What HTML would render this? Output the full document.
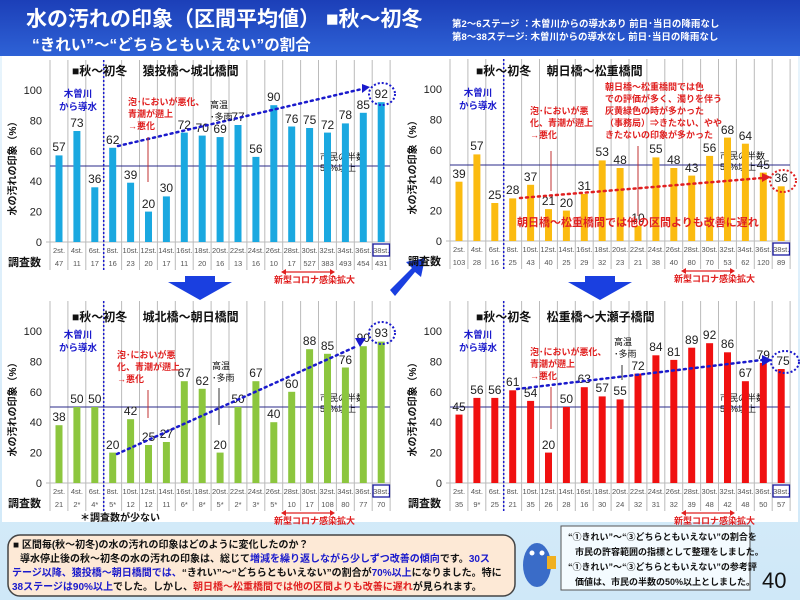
<!DOCTYPE html>
<html><head><meta charset="utf-8"><style>
body{margin:0;width:800px;height:600px;overflow:hidden;background:#fff;font-family:"Liberation Sans","Noto Sans CJK JP",sans-serif}
svg{display:block}
text{font-family:"Liberation Sans","Noto Sans CJK JP",sans-serif}
.v{font-size:12px;fill:#222;text-anchor:middle}
.s{font-size:7.5px;fill:#555;text-anchor:middle}
.yt{font-size:11px;fill:#222;text-anchor:end}
.t{font-size:12px;font-weight:bold;fill:#111}
.r{font-size:9px;font-weight:bold;fill:#e02020}
.b{font-size:9.5px;font-weight:bold;fill:#1a1acc}
.k{font-size:9px;fill:#111}
</style></head><body>
<svg width="800" height="600" viewBox="0 0 800 600">
<defs>
<linearGradient id="hg" x1="0" y1="0" x2="0" y2="1"><stop offset="0" stop-color="#1c3fb8"/><stop offset="1" stop-color="#2e62d6"/></linearGradient>
<linearGradient id="bg" x1="0" y1="0" x2="0" y2="1"><stop offset="0" stop-color="#eaf5fd"/><stop offset="1" stop-color="#cfe8f8"/></linearGradient>
<g id="grid">
<g stroke="#bbb" stroke-width="1">
<line x1="50" y1="-182" x2="50" y2="28"/><line x1="67.9" y1="-182" x2="67.9" y2="28"/><line x1="85.8" y1="-182" x2="85.8" y2="28"/><line x1="103.7" y1="-182" x2="103.7" y2="28"/><line x1="121.6" y1="-182" x2="121.6" y2="28"/><line x1="139.5" y1="-182" x2="139.5" y2="28"/><line x1="157.4" y1="-182" x2="157.4" y2="28"/><line x1="175.3" y1="-182" x2="175.3" y2="28"/><line x1="193.2" y1="-182" x2="193.2" y2="28"/><line x1="211.1" y1="-182" x2="211.1" y2="28"/><line x1="229" y1="-182" x2="229" y2="28"/><line x1="246.9" y1="-182" x2="246.9" y2="28"/><line x1="264.8" y1="-182" x2="264.8" y2="28"/><line x1="282.7" y1="-182" x2="282.7" y2="28"/><line x1="300.6" y1="-182" x2="300.6" y2="28"/><line x1="318.5" y1="-182" x2="318.5" y2="28"/><line x1="336.4" y1="-182" x2="336.4" y2="28"/><line x1="354.3" y1="-182" x2="354.3" y2="28"/><line x1="372.2" y1="-182" x2="372.2" y2="28"/><line x1="390.1" y1="-182" x2="390.1" y2="28"/>
<line x1="46" y1="0" x2="390" y2="0"/>
</g>
<line x1="50" y1="-76" x2="390" y2="-76" stroke="#2a2a8a" stroke-width="1"/>
<line x1="103.7" y1="-182" x2="103.7" y2="28" stroke="#1a1acc" stroke-width="1.5" stroke-dasharray="2,2"/>
<text class="yt" x="42" y="4">0</text><text class="yt" x="42" y="-26.4">20</text><text class="yt" x="42" y="-56.8">40</text><text class="yt" x="42" y="-87.2">60</text><text class="yt" x="42" y="-117.6">80</text><text class="yt" x="42" y="-148">100</text>
<text x="16" y="-76" font-size="10" font-weight="bold" fill="#111" transform="rotate(-90 16 -76)" text-anchor="middle">水の汚れの印象（%）</text>
<text x="8" y="24" font-size="11" font-weight="bold" fill="#111">調査数</text>
<text class="s" x="59" y="11">2st.</text><text class="s" x="76.9" y="11">4st.</text><text class="s" x="94.8" y="11">6st.</text><text class="s" x="112.7" y="11">8st.</text><text class="s" x="130.6" y="11">10st.</text><text class="s" x="148.5" y="11">12st.</text><text class="s" x="166.4" y="11">14st.</text><text class="s" x="184.3" y="11">16st.</text><text class="s" x="202.2" y="11">18st.</text><text class="s" x="220.1" y="11">20st.</text><text class="s" x="238" y="11">22st.</text><text class="s" x="255.9" y="11">24st.</text><text class="s" x="273.8" y="11">26st.</text><text class="s" x="291.7" y="11">28st.</text><text class="s" x="309.6" y="11">30st.</text><text class="s" x="327.5" y="11">32st.</text><text class="s" x="345.4" y="11">34st.</text><text class="s" x="363.3" y="11">36st.</text><text class="s" x="381.2" y="11">38st.</text>
<rect x="373" y="2" width="16.5" height="12" fill="none" stroke="#1a1aa0" stroke-width="1.3"/>
<text class="b" x="78" y="-145" text-anchor="middle">木曽川</text><text class="b" x="78" y="-132" text-anchor="middle">から導水</text>
<text class="k" x="320" y="-82">市民の半数</text><text class="k" x="320" y="-71">50%以上</text>
<line x1="284" y1="30" x2="332" y2="30" stroke="#e02020" stroke-width="1.2"/>
<polygon points="281,30 286,27 286,33" fill="#e02020"/><polygon points="335,30 330,27 330,33" fill="#e02020"/>
<text class="r" x="274" y="41" font-size="8">新型コロナ感染拡大</text>
</g>
</defs>

<rect width="800" height="600" fill="url(#bg)"/>
<rect x="0" y="0" width="800" height="56" fill="url(#hg)"/>
<rect x="2" y="56" width="796" height="466" fill="#fff"/>
<text x="26" y="26" font-size="21" font-weight="bold" fill="#fff">水の汚れの印象（区間平均値） ■秋～初冬</text>
<text x="32" y="50" font-size="15.5" font-weight="bold" fill="#fff">“きれい”～“どちらともいえない”の割合</text>
<text x="452" y="27" font-size="9.5" font-weight="bold" fill="#fff">第2～6ステージ ：木曽川からの導水あり 前日･当日の降雨なし</text>
<text x="452" y="40" font-size="9.5" font-weight="bold" fill="#fff">第8～38ステージ: 木曽川からの導水なし 前日･当日の降雨なし</text>

<polygon points="185,276 215,276 215,282 232,282 200,300 168,282 185,282" fill="#1a3fe0"/>
<polygon points="585,276 615,276 615,282 632,282 600,300 568,282 585,282" fill="#1a3fe0"/>
<polygon points="390,290 412,268 406,262 425,258 421,277 415,272 395,296" fill="#1a3fe0"/>

<g transform="translate(0,242)">
<use href="#grid"/>
<text class="t" x="72" y="-167">■秋～初冬　 猿投橋～城北橋間</text>
<g fill="#1aa8e0">
<rect x="55.5" y="-86.6" width="7" height="86.6"/><rect x="73.4" y="-111" width="7" height="111"/><rect x="91.3" y="-54.7" width="7" height="54.7"/><rect x="109.2" y="-94.2" width="7" height="94.2"/><rect x="127.1" y="-59.3" width="7" height="59.3"/><rect x="145" y="-30.4" width="7" height="30.4"/><rect x="162.9" y="-45.6" width="7" height="45.6"/><rect x="180.8" y="-109.4" width="7" height="109.4"/><rect x="198.7" y="-106.4" width="7" height="106.4"/><rect x="216.6" y="-104.9" width="7" height="104.9"/><rect x="234.5" y="-117" width="7" height="117"/><rect x="252.4" y="-85.1" width="7" height="85.1"/><rect x="270.3" y="-136.8" width="7" height="136.8"/><rect x="288.2" y="-115.5" width="7" height="115.5"/><rect x="306.1" y="-114" width="7" height="114"/><rect x="324" y="-109.4" width="7" height="109.4"/><rect x="341.9" y="-118.6" width="7" height="118.6"/><rect x="359.8" y="-129.2" width="7" height="129.2"/><rect x="377.7" y="-139.8" width="7" height="139.8"/>
</g>
<text class="v" x="59" y="-91">57</text><text class="v" x="76.9" y="-115">73</text><text class="v" x="94.8" y="-59">36</text><text class="v" x="112.7" y="-98">62</text><text class="v" x="130.6" y="-63">39</text><text class="v" x="148.5" y="-34">20</text><text class="v" x="166.4" y="-50">30</text><text class="v" x="184.3" y="-113">72</text><text class="v" x="202.2" y="-110">70</text><text class="v" x="220.1" y="-109">69</text><text class="v" x="238" y="-121">77</text><text class="v" x="255.9" y="-89">56</text><text class="v" x="273.8" y="-141">90</text><text class="v" x="291.7" y="-119">76</text><text class="v" x="309.6" y="-118">75</text><text class="v" x="327.5" y="-113">72</text><text class="v" x="345.4" y="-123">78</text><text class="v" x="363.3" y="-133">85</text><text class="v" x="381.2" y="-144">92</text>
<text class="s" x="59" y="24">47</text><text class="s" x="76.9" y="24">11</text><text class="s" x="94.8" y="24">17</text><text class="s" x="112.7" y="24">16</text><text class="s" x="130.6" y="24">23</text><text class="s" x="148.5" y="24">20</text><text class="s" x="166.4" y="24">17</text><text class="s" x="184.3" y="24">11</text><text class="s" x="202.2" y="24">20</text><text class="s" x="220.1" y="24">16</text><text class="s" x="238" y="24">13</text><text class="s" x="255.9" y="24">16</text><text class="s" x="273.8" y="24">10</text><text class="s" x="291.7" y="24">17</text><text class="s" x="309.6" y="24">527</text><text class="s" x="327.5" y="24">383</text><text class="s" x="345.4" y="24">493</text><text class="s" x="363.3" y="24">454</text><text class="s" x="381.2" y="24">431</text>
<line x1="118" y1="-96" x2="362" y2="-153" stroke="#1a1acc" stroke-width="2.5" stroke-dasharray="2,4" stroke-linecap="round"/>
<polygon points="362,-158 370,-155 362,-149" fill="#1a1acc"/>
<ellipse cx="382" cy="-148" rx="13" ry="11" fill="none" stroke="#1a1acc" stroke-width="2" stroke-dasharray="2,2"/>
<text class="r" x="128" y="-137">泡･においが悪化、</text><text class="r" x="128" y="-125">青潮が遡上</text><text class="r" x="128" y="-113">→悪化</text>
<line x1="148" y1="-105" x2="148" y2="-60" stroke="#c03030"/>
<text class="k" x="210" y="-134">高温</text><text class="k" x="210" y="-122">･多雨</text>
</g>

<g transform="translate(400,241)">
<use href="#grid"/>
<text class="t" x="76" y="-166">■秋～初冬　 朝日橋～松重橋間</text>
<g fill="#fbbb10">
<rect x="55.5" y="-59.3" width="7" height="59.3"/><rect x="73.4" y="-86.6" width="7" height="86.6"/><rect x="91.3" y="-38" width="7" height="38"/><rect x="109.2" y="-42.6" width="7" height="42.6"/><rect x="127.1" y="-56.2" width="7" height="56.2"/><rect x="145" y="-31.9" width="7" height="31.9"/><rect x="162.9" y="-30.4" width="7" height="30.4"/><rect x="180.8" y="-47.1" width="7" height="47.1"/><rect x="198.7" y="-80.6" width="7" height="80.6"/><rect x="216.6" y="-73" width="7" height="73"/><rect x="234.5" y="-15.2" width="7" height="15.2"/><rect x="252.4" y="-83.6" width="7" height="83.6"/><rect x="270.3" y="-73" width="7" height="73"/><rect x="288.2" y="-65.4" width="7" height="65.4"/><rect x="306.1" y="-85.1" width="7" height="85.1"/><rect x="324" y="-103.4" width="7" height="103.4"/><rect x="341.9" y="-97.3" width="7" height="97.3"/><rect x="359.8" y="-68.4" width="7" height="68.4"/><rect x="377.7" y="-54.7" width="7" height="54.7"/>
</g>
<text class="v" x="59" y="-63">39</text><text class="v" x="76.9" y="-91">57</text><text class="v" x="94.8" y="-42">25</text><text class="v" x="112.7" y="-47">28</text><text class="v" x="130.6" y="-60">37</text><text class="v" x="148.5" y="-36">21</text><text class="v" x="166.4" y="-34">20</text><text class="v" x="184.3" y="-51">31</text><text class="v" x="202.2" y="-85">53</text><text class="v" x="220.1" y="-77">48</text><text class="v" x="238" y="-19">10</text><text class="v" x="255.9" y="-88">55</text><text class="v" x="273.8" y="-77">48</text><text class="v" x="291.7" y="-69">43</text><text class="v" x="309.6" y="-89">56</text><text class="v" x="327.5" y="-107">68</text><text class="v" x="345.4" y="-101">64</text><text class="v" x="363.3" y="-72">45</text><text class="v" x="381.2" y="-59">36</text>
<text class="s" x="59" y="24">103</text><text class="s" x="76.9" y="24">28</text><text class="s" x="94.8" y="24">16</text><text class="s" x="112.7" y="24">25</text><text class="s" x="130.6" y="24">43</text><text class="s" x="148.5" y="24">40</text><text class="s" x="166.4" y="24">25</text><text class="s" x="184.3" y="24">29</text><text class="s" x="202.2" y="24">32</text><text class="s" x="220.1" y="24">23</text><text class="s" x="238" y="24">21</text><text class="s" x="255.9" y="24">38</text><text class="s" x="273.8" y="24">40</text><text class="s" x="291.7" y="24">80</text><text class="s" x="309.6" y="24">70</text><text class="s" x="327.5" y="24">53</text><text class="s" x="345.4" y="24">62</text><text class="s" x="363.3" y="24">120</text><text class="s" x="381.2" y="24">89</text>
<line x1="120" y1="-43" x2="362" y2="-63" stroke="#e02020" stroke-width="2.5" stroke-dasharray="2,4" stroke-linecap="round"/>
<polygon points="362,-68 371,-64 362,-59" fill="#e02020"/>
<ellipse cx="383" cy="-60" rx="13" ry="11" fill="none" stroke="#e02020" stroke-width="2" stroke-dasharray="2,2"/>
<text class="r" x="130" y="-127">泡･においが悪</text><text class="r" x="130" y="-115">化、青潮が遡上</text><text class="r" x="130" y="-103">→悪化</text>
<line x1="151" y1="-90" x2="151" y2="-50" stroke="#c03030"/>
<text class="r" x="205" y="-151">朝日橋～松重橋間では色</text><text class="r" x="205" y="-139">での評価が多く、濁りを伴う</text><text class="r" x="205" y="-127">灰黄緑色の時が多かった</text><text class="r" x="205" y="-115">（事務局）⇒きたない、やや</text><text class="r" x="205" y="-103">きたないの印象が多かった</text>
<line x1="238" y1="-95" x2="238" y2="-25" stroke="#c03030"/>
<text x="117" y="-15" font-size="11" font-weight="bold" fill="#e02020">朝日橋～松重橋間では他の区間よりも改善に遅れ</text>
</g>

<g transform="translate(0,483)">
<use href="#grid"/>
<text class="t" x="72" y="-162">■秋～初冬　 城北橋～朝日橋間</text>
<g fill="#8cc63e">
<rect x="55.5" y="-57.8" width="7" height="57.8"/><rect x="73.4" y="-76" width="7" height="76"/><rect x="91.3" y="-76" width="7" height="76"/><rect x="109.2" y="-30.4" width="7" height="30.4"/><rect x="127.1" y="-63.8" width="7" height="63.8"/><rect x="145" y="-38" width="7" height="38"/><rect x="162.9" y="-41" width="7" height="41"/><rect x="180.8" y="-101.8" width="7" height="101.8"/><rect x="198.7" y="-94.2" width="7" height="94.2"/><rect x="216.6" y="-30.4" width="7" height="30.4"/><rect x="234.5" y="-76" width="7" height="76"/><rect x="252.4" y="-101.8" width="7" height="101.8"/><rect x="270.3" y="-60.8" width="7" height="60.8"/><rect x="288.2" y="-91.2" width="7" height="91.2"/><rect x="306.1" y="-133.8" width="7" height="133.8"/><rect x="324" y="-129.2" width="7" height="129.2"/><rect x="341.9" y="-115.5" width="7" height="115.5"/><rect x="359.8" y="-136.8" width="7" height="136.8"/><rect x="377.7" y="-141.4" width="7" height="141.4"/>
</g>
<text class="v" x="59" y="-62">38</text><text class="v" x="76.9" y="-80">50</text><text class="v" x="94.8" y="-80">50</text><text class="v" x="112.7" y="-34">20</text><text class="v" x="130.6" y="-68">42</text><text class="v" x="148.5" y="-42">25</text><text class="v" x="166.4" y="-45">27</text><text class="v" x="184.3" y="-106">67</text><text class="v" x="202.2" y="-98">62</text><text class="v" x="220.1" y="-34">20</text><text class="v" x="238" y="-80">50</text><text class="v" x="255.9" y="-106">67</text><text class="v" x="273.8" y="-65">40</text><text class="v" x="291.7" y="-95">60</text><text class="v" x="309.6" y="-138">88</text><text class="v" x="327.5" y="-133">85</text><text class="v" x="345.4" y="-119">76</text><text class="v" x="363.3" y="-141">90</text><text class="v" x="381.2" y="-146">93</text>
<text class="s" x="59" y="24">21</text><text class="s" x="76.9" y="24">2*</text><text class="s" x="94.8" y="24">4*</text><text class="s" x="112.7" y="24">5*</text><text class="s" x="130.6" y="24">12</text><text class="s" x="148.5" y="24">12</text><text class="s" x="166.4" y="24">11</text><text class="s" x="184.3" y="24">6*</text><text class="s" x="202.2" y="24">8*</text><text class="s" x="220.1" y="24">5*</text><text class="s" x="238" y="24">2*</text><text class="s" x="255.9" y="24">3*</text><text class="s" x="273.8" y="24">5*</text><text class="s" x="291.7" y="24">10</text><text class="s" x="309.6" y="24">17</text><text class="s" x="327.5" y="24">108</text><text class="s" x="345.4" y="24">80</text><text class="s" x="363.3" y="24">77</text><text class="s" x="381.2" y="24">70</text>
<line x1="117" y1="-29" x2="355" y2="-136" stroke="#1a1acc" stroke-width="2.5" stroke-dasharray="2,4" stroke-linecap="round"/>
<polygon points="355,-145 366,-145 360,-136" fill="#1a1acc"/>
<ellipse cx="382" cy="-150" rx="13" ry="11" fill="none" stroke="#1a1acc" stroke-width="2" stroke-dasharray="2,2"/>
<text class="r" x="117" y="-125">泡･においが悪</text><text class="r" x="117" y="-113">化、青潮が遡上</text><text class="r" x="117" y="-101">→悪化</text>
<line x1="148" y1="-93" x2="148" y2="-65" stroke="#c03030"/>
<text class="k" x="212" y="-114">高温</text><text class="k" x="212" y="-102">･多雨</text>
<line x1="219" y1="-95" x2="219" y2="-58" stroke="#333"/>
<text x="80" y="38" font-size="10" font-weight="bold" fill="#111">＊調査数が少ない</text>
</g>

<g transform="translate(400,483)">
<use href="#grid"/>
<text class="t" x="76" y="-162">■秋～初冬　 松重橋～大瀬子橋間</text>
<g fill="#f01010">
<rect x="55.5" y="-68.4" width="7" height="68.4"/><rect x="73.4" y="-85.1" width="7" height="85.1"/><rect x="91.3" y="-85.1" width="7" height="85.1"/><rect x="109.2" y="-92.7" width="7" height="92.7"/><rect x="127.1" y="-82.1" width="7" height="82.1"/><rect x="145" y="-30.4" width="7" height="30.4"/><rect x="162.9" y="-76" width="7" height="76"/><rect x="180.8" y="-95.8" width="7" height="95.8"/><rect x="198.7" y="-86.6" width="7" height="86.6"/><rect x="216.6" y="-83.6" width="7" height="83.6"/><rect x="234.5" y="-109.4" width="7" height="109.4"/><rect x="252.4" y="-127.7" width="7" height="127.7"/><rect x="270.3" y="-123.1" width="7" height="123.1"/><rect x="288.2" y="-135.3" width="7" height="135.3"/><rect x="306.1" y="-139.8" width="7" height="139.8"/><rect x="324" y="-130.7" width="7" height="130.7"/><rect x="341.9" y="-101.8" width="7" height="101.8"/><rect x="359.8" y="-120.1" width="7" height="120.1"/><rect x="377.7" y="-114" width="7" height="114"/>
</g>
<text class="v" x="59" y="-72">45</text><text class="v" x="76.9" y="-89">56</text><text class="v" x="94.8" y="-89">56</text><text class="v" x="112.7" y="-97">61</text><text class="v" x="130.6" y="-86">54</text><text class="v" x="148.5" y="-34">20</text><text class="v" x="166.4" y="-80">50</text><text class="v" x="184.3" y="-100">63</text><text class="v" x="202.2" y="-91">57</text><text class="v" x="220.1" y="-88">55</text><text class="v" x="238" y="-113">72</text><text class="v" x="255.9" y="-132">84</text><text class="v" x="273.8" y="-127">81</text><text class="v" x="291.7" y="-139">89</text><text class="v" x="309.6" y="-144">92</text><text class="v" x="327.5" y="-135">86</text><text class="v" x="345.4" y="-106">67</text><text class="v" x="363.3" y="-124">79</text><text class="v" x="383" y="-118">75</text>
<text class="s" x="59" y="24">35</text><text class="s" x="76.9" y="24">9*</text><text class="s" x="94.8" y="24">25</text><text class="s" x="112.7" y="24">21</text><text class="s" x="130.6" y="24">35</text><text class="s" x="148.5" y="24">26</text><text class="s" x="166.4" y="24">28</text><text class="s" x="184.3" y="24">16</text><text class="s" x="202.2" y="24">30</text><text class="s" x="220.1" y="24">24</text><text class="s" x="238" y="24">32</text><text class="s" x="255.9" y="24">31</text><text class="s" x="273.8" y="24">32</text><text class="s" x="291.7" y="24">39</text><text class="s" x="309.6" y="24">48</text><text class="s" x="327.5" y="24">42</text><text class="s" x="345.4" y="24">48</text><text class="s" x="363.3" y="24">50</text><text class="s" x="381.2" y="24">57</text>
<line x1="117" y1="-94" x2="362" y2="-123" stroke="#1a1acc" stroke-width="2.5" stroke-dasharray="2,4" stroke-linecap="round"/>
<polygon points="362,-128 372,-123 362,-117" fill="#1a1acc"/>
<ellipse cx="385" cy="-121" rx="14" ry="11" fill="none" stroke="#1a1acc" stroke-width="2" stroke-dasharray="2,2"/>
<text class="r" x="130" y="-128">泡･においが悪化、</text><text class="r" x="130" y="-116">青潮が遡上</text><text class="r" x="130" y="-104">→悪化</text>
<line x1="151" y1="-96" x2="151" y2="-54" stroke="#c03030"/>
<text class="k" x="214" y="-138">高温</text><text class="k" x="214" y="-126">･多雨</text>
<line x1="222" y1="-118" x2="222" y2="-103" stroke="#333"/>
</g>

<rect x="8" y="535" width="507" height="61" rx="12" fill="#fde9d6" stroke="#444" stroke-width="1.5"/>
<text x="13" y="548" font-size="10" font-weight="bold" fill="#111">■ 区間毎(秋～初冬)の水の汚れの印象はどのように変化したのか？</text>
<text x="20" y="562" font-size="10" font-weight="bold" fill="#111">導水停止後の秋～初冬の水の汚れの印象は、総じて<tspan fill="#1a1acc">増減を繰り返しながら少しずつ改善の傾向</tspan>です。<tspan fill="#1a1acc">30ス</tspan></text>
<text x="12" y="576" font-size="10" font-weight="bold" fill="#1a1acc">テージ以降、猿投橋～朝日橋間では、<tspan fill="#111">“きれい”～“どちらともいえない”の割合が</tspan>70%以上<tspan fill="#111">になりました。特に</tspan></text>
<text x="12" y="590" font-size="10" font-weight="bold" fill="#1a1acc">38ステージは90%以上<tspan fill="#111">でした。しかし、</tspan><tspan fill="#e02020">朝日橋～松重橋間では他の区間よりも改善に遅れ</tspan><tspan fill="#111">が見られます。</tspan></text>
<ellipse cx="537" cy="565" rx="14" ry="22" fill="#3a6cc8"/>
<circle cx="532" cy="553" r="2.5" fill="#fff"/><circle cx="542" cy="553" r="2.5" fill="#fff"/>
<rect x="547" y="556" width="9" height="13" fill="#f0b020"/>
<rect x="561" y="526" width="189" height="64" fill="#f4fbff" stroke="#555" stroke-width="1"/>
<text x="568" y="540" font-size="9" font-weight="bold" fill="#111">“①きれい”～“③どちらともいえない”の割合を</text>
<text x="575" y="555" font-size="9" font-weight="bold" fill="#111">市民の許容範囲の指標として整理をしました。</text>
<text x="568" y="570" font-size="9" font-weight="bold" fill="#111">“①きれい”～“③どちらともいえない”の参考評</text>
<text x="575" y="585" font-size="9" font-weight="bold" fill="#111">価値は、市民の半数の50%以上としました。</text>
<text x="762" y="588" font-size="22" fill="#111">40</text>
</svg>
</body></html>
